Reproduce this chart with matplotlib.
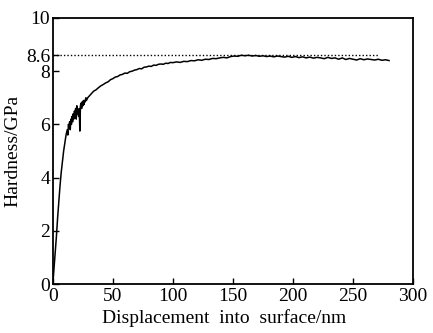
import matplotlib
matplotlib.use("Agg")
from matplotlib import pyplot as plt

# hardness curve
x_a = list(range(0, 12, 1))
h_a = [0, 0.6, 1.2, 1.8, 2.5, 3.1, 3.7, 4.2, 4.6, 5.0, 5.3, 5.6]
x_n = [12 + 0.5 * i for i in range(33)] + [29, 30]
h_n = [5.8, 5.6, 6.0, 5.9, 6.1, 5.8, 6.2, 6.0, 6.3, 6.1,
       6.4, 6.2, 6.5, 6.3, 6.6, 6.2, 6.7, 6.4, 6.5, 6.3,
       6.6, 5.75, 6.7, 6.8, 6.6, 6.85, 6.7, 6.9, 6.75, 6.9,
       6.85, 7.0, 6.9, 7.0, 7.05]
x_b = list(range(32, 99, 2))
h_b = [7.15, 7.25, 7.3, 7.38, 7.45, 7.5, 7.56, 7.6, 7.68, 7.72, 7.78, 7.8, 7.86,
       7.88, 7.93, 7.92, 7.98, 8.0, 8.04, 8.06, 8.1, 8.09, 8.15, 8.16, 8.19, 8.18,
       8.23, 8.22, 8.26, 8.27, 8.26, 8.3, 8.29, 8.33]
x_c = list(range(100, 281, 3))
h_c = [8.32, 8.35, 8.33, 8.37, 8.36, 8.4, 8.39, 8.43, 8.41, 8.45,
       8.44, 8.48, 8.47, 8.5, 8.52, 8.5, 8.55, 8.57, 8.56, 8.6,
       8.58, 8.6, 8.57, 8.59, 8.56, 8.58, 8.55, 8.57, 8.54, 8.57,
       8.55, 8.53, 8.56, 8.52, 8.55, 8.51, 8.54, 8.5, 8.53, 8.49,
       8.52, 8.5, 8.47, 8.52, 8.48, 8.5, 8.45, 8.5, 8.44, 8.48,
       8.45, 8.42, 8.47, 8.43, 8.46, 8.44, 8.42, 8.45, 8.41, 8.43,
       8.4]
displacement = x_a + x_n + x_b + x_c
hardness = h_a + h_n + h_b + h_c

ref_level = 8.6
ref_end = 272
x_ticks = [0, 50, 100, 150, 200, 250, 300]
y_ticks = [0, 2, 4, 6, 8, 8.6, 10]
y_labels = ["0", "2", "4", "6", "8", "8.6", "10"]

plt.rcParams["font.family"] = ["Liberation Serif", "DejaVu Serif"]

fig = plt.figure(figsize=(4.33, 3.33), dpi=100)
ax = fig.add_axes([0.122, 0.147, 0.832, 0.799])

ax.plot(displacement, hardness, color="black", lw=1.1)
ax.plot([0, ref_end], [ref_level, ref_level], color="black", lw=1.0, ls=(0, (1, 1.5)))

ax.set_xlim(0, 300)
ax.set_ylim(0, 10)
ax.set_xticks(x_ticks)
ax.set_yticks(y_ticks)
ax.set_yticklabels(y_labels)
ax.tick_params(direction="in", length=4, width=1, labelsize=14,
               top=False, right=False)
ax.tick_params(axis="x", pad=3)
ax.tick_params(axis="y", pad=2)
for s in ax.spines.values():
    s.set_linewidth(1.3)

ax.set_xlabel("Displacement  into  surface/nm", fontsize=14)
ax.xaxis.set_label_coords(0.475, -0.095)
ax.set_ylabel("Hardness/GPa", fontsize=14, labelpad=3)

plt.savefig("out.png", dpi=100)
plt.close()
